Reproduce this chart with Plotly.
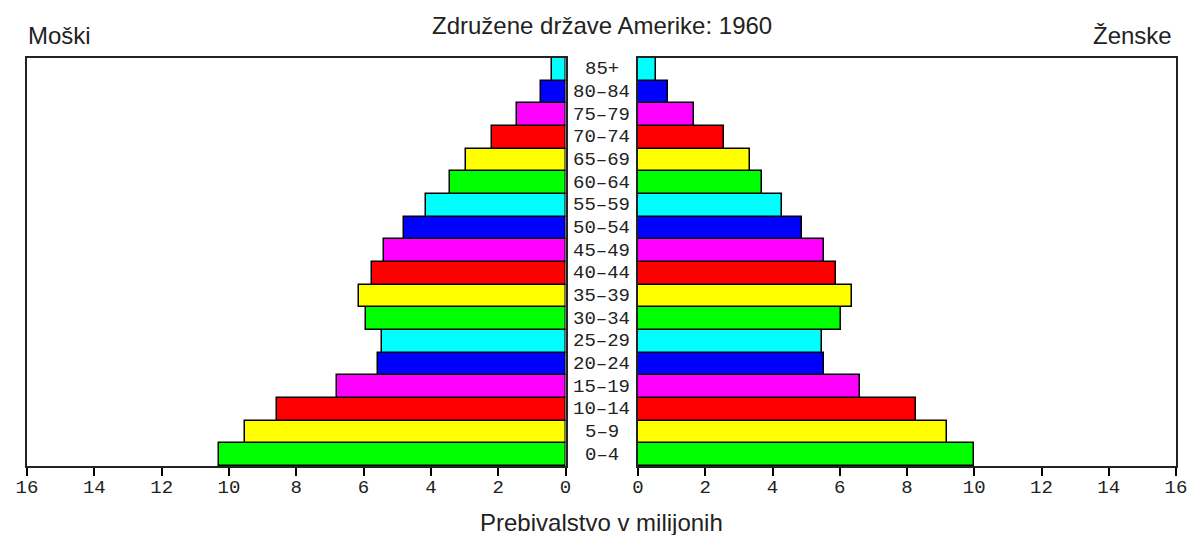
import plotly.graph_objects as go

ages = ["0–4", "5–9", "10–14", "15–19", "20–24", "25–29", "30–34", "35–39", "40–44",
        "45–49", "50–54", "55–59", "60–64", "65–69", "70–74", "75–79", "80–84", "85+"]
male = [10.30, 9.52, 8.57, 6.80, 5.56, 5.44, 5.92, 6.15, 5.75,
        5.39, 4.80, 4.14, 3.44, 2.95, 2.18, 1.43, 0.72, 0.41]
female = [9.98, 9.20, 8.26, 6.60, 5.52, 5.46, 6.05, 6.36, 5.88,
          5.53, 4.88, 4.28, 3.68, 3.32, 2.55, 1.66, 0.88, 0.53]
palette = ["#00FF00", "#FFFF00", "#FF0000", "#FF00FF", "#0000FF", "#00FFFF"]
colors = [palette[i % 6] for i in range(len(ages))]
ticks = list(range(0, 17, 2))

title = "Združene države Amerike: 1960"
left_label = "Moški"
right_label = "Ženske"
x_title = "Prebivalstvo v milijonih"

W, H = 1190, 535
# target screen positions of the plot frame
sx0, sx1, sy0, sy1 = 27, 1176, 58, 466
L = sx0
R = W - sx1
T = sy0
B = H - sy1
pw = W - L - R
ph = H - T - B


def px_x(sx):
    return (sx - sx0) / pw


def px_y(sy):
    return (sy1 - sy) / ph


left_dom = [0, px_x(565.5)]
right_dom = [px_x(638), 1]

fig = go.Figure()
fig.add_trace(go.Bar(y=ages, x=male, orientation="h",
                     marker=dict(color=colors, line=dict(color="black", width=1.5)),
                     xaxis="x", yaxis="y", showlegend=False, hoverinfo="x+y"))
fig.add_trace(go.Bar(y=ages, x=female, orientation="h",
                     marker=dict(color=colors, line=dict(color="black", width=1.5)),
                     xaxis="x2", yaxis="y2", showlegend=False, hoverinfo="x+y"))

tickfont = dict(family="Liberation Mono", size=19, color="#222")
axcommon = dict(tickvals=ticks, ticktext=[str(t) for t in ticks], ticks="outside", ticklen=8,
                tickwidth=1.5, tickcolor="black", showline=True, linecolor="#222", linewidth=2, mirror=True,
                showgrid=False, zeroline=False, tickfont=tickfont, fixedrange=True, automargin=False,
                ticklabelstandoff=-6)
yax = dict(showticklabels=False, ticks="", showgrid=False, zeroline=False, showline=True,
           linecolor="#222", linewidth=2, mirror=True, automargin=False,
           range=[-0.5, len(ages) - 0.5], fixedrange=True)
fig.update_layout(
    width=W, height=H,
    margin=dict(l=L, r=R, t=T, b=B, autoexpand=False),
    paper_bgcolor="white", plot_bgcolor="white",
    bargap=0,
    xaxis=dict(domain=left_dom, anchor="y", range=[16, 0], **axcommon),
    xaxis2=dict(domain=right_dom, anchor="y2", range=[0, 16], **axcommon),
    yaxis=dict(anchor="x", **yax),
    yaxis2=dict(anchor="x2", **yax),
)

xc = px_x(601.5)
for a in ages:
    fig.add_annotation(x=xc, y=a, xref="paper", yref="y", text=a, showarrow=False,
                       font=dict(family="Liberation Mono", size=19, color="#222"),
                       xanchor="center", yanchor="middle")

txtfont = dict(family="Liberation Sans", size=24, color="#222")
fig.add_annotation(x=xc, y=px_y(25), xref="paper", yref="paper", text=title, showarrow=False,
                   font=txtfont, xanchor="center", yanchor="middle")
fig.add_annotation(x=px_x(26), y=px_y(36), xref="paper", yref="paper", text=left_label, showarrow=False,
                   font=txtfont, xanchor="left", yanchor="middle")
fig.add_annotation(x=px_x(1174), y=px_y(36), xref="paper", yref="paper", text=right_label,
                   showarrow=False, font=txtfont, xanchor="right", yanchor="middle")
fig.add_annotation(x=xc, y=px_y(522), xref="paper", yref="paper", text=x_title,
                   showarrow=False, font=txtfont, xanchor="center", yanchor="middle")

fig.write_html("out.html", config={"displayModeBar": False},
               post_script="document.body.style.margin='0';document.body.style.overflow='hidden';")
